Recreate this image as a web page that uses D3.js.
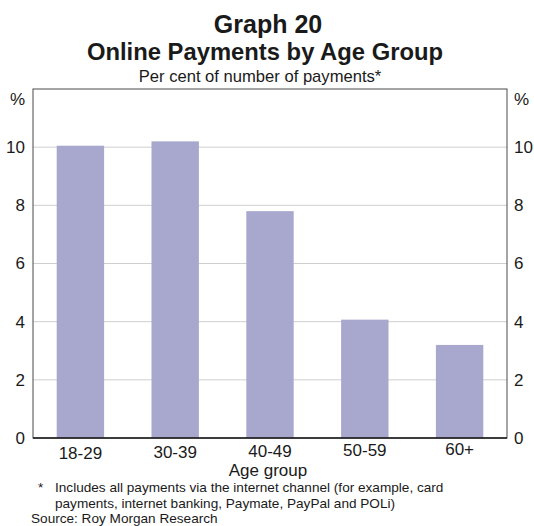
<!DOCTYPE html>
<html>
<head>
<meta charset="utf-8">
<script src="https://cdn.jsdelivr.net/npm/d3@7"></script>
<style>
  html, body { margin: 0; padding: 0; background: #fff; }
  text { font-family: "Liberation Sans", Arial, Helvetica, sans-serif; fill: #1a1a1a; }
</style>
</head>
<body>
<script>
const categories = ["18-29", "30-39", "40-49", "50-59", "60+"];
const values = [10.05, 10.2, 7.8, 4.07, 3.2];
const yTicks = [0, 2, 4, 6, 8, 10];
const titleText = "Graph 20";
const subtitleText = "Online Payments by Age Group";
const unitsText = "Per cent of number of payments*";
const xAxisTitle = "Age group";
const footnoteLines = [
  "Includes all payments via the internet channel (for example, card",
  "payments, internet banking, Paymate, PayPal and POLi)"
];
const sourceText = "Source: Roy Morgan Research";

const W = 534, H = 526;
const plot = { left: 33, right: 507, top: 89, bottom: 438 };
const barColor = "#a8a8ce";
const gridColor = "#cfcfcf";
const tickFont = 17;
const noteFont = 13.6;

const svg = d3.select("body").append("svg")
  .attr("width", W).attr("height", H)
  .attr("viewBox", `0 0 ${W} ${H}`);

const x = d3.scaleBand().domain(categories)
  .range([plot.left, plot.right]).paddingInner(0.5).paddingOuter(0.25);
const y = d3.scaleLinear().domain([0, 12]).range([plot.bottom, plot.top]);

// titles
svg.append("text").attr("x", 268).attr("y", 33)
  .attr("text-anchor", "middle").attr("font-size", 25).attr("font-weight", "bold")
  .text(titleText);
svg.append("text").attr("x", 265).attr("y", 59.5)
  .attr("text-anchor", "middle").attr("font-size", 23.8).attr("font-weight", "bold")
  .text(subtitleText);
svg.append("text").attr("x", 260).attr("y", 82)
  .attr("text-anchor", "middle").attr("font-size", 16.6)
  .text(unitsText);

// gridlines
svg.append("g").selectAll("line")
  .data(yTicks.filter(d => d > 0))
  .join("line")
  .attr("x1", plot.left).attr("x2", plot.right)
  .attr("y1", d => y(d)).attr("y2", d => y(d))
  .attr("stroke", gridColor).attr("stroke-width", 1);

// bars
svg.append("g").selectAll("rect")
  .data(categories.map((c, i) => ({ c, v: values[i] })))
  .join("rect")
  .attr("x", d => x(d.c))
  .attr("width", x.bandwidth())
  .attr("y", d => y(d.v))
  .attr("height", d => y(0) - y(d.v))
  .attr("fill", barColor);

// frame
svg.append("rect")
  .attr("x", plot.left).attr("y", plot.top)
  .attr("width", plot.right - plot.left).attr("height", plot.bottom - plot.top)
  .attr("fill", "none").attr("stroke", "#4a4a4a").attr("stroke-width", 1);
svg.append("line")
  .attr("x1", plot.left).attr("x2", plot.right)
  .attr("y1", plot.bottom).attr("y2", plot.bottom)
  .attr("stroke", "#1a1a1a").attr("stroke-width", 1.5);

// y axes (left & right)
const yLeft = d3.axisLeft(y).tickValues(yTicks).tickSize(0).tickPadding(8).tickFormat(d3.format("d"));
const yRight = d3.axisRight(y).tickValues(yTicks).tickSize(0).tickPadding(7).tickFormat(d3.format("d"));
const gl = svg.append("g").attr("transform", `translate(${plot.left},0)`).call(yLeft);
const gr = svg.append("g").attr("transform", `translate(${plot.right},0)`).call(yRight);
[gl, gr].forEach(g => {
  g.select(".domain").remove();
  g.selectAll("text").attr("font-size", tickFont).attr("fill", "#1a1a1a")
    .attr("font-family", "Liberation Sans, Arial, sans-serif");
});
svg.append("text").attr("x", plot.left - 8).attr("y", 105)
  .attr("text-anchor", "end").attr("font-size", tickFont).text("%");
svg.append("text").attr("x", plot.right + 7).attr("y", 105)
  .attr("text-anchor", "start").attr("font-size", tickFont).text("%");

// x axis labels
const xAxis = d3.axisBottom(x).tickSize(0).tickPadding(9);
const gx = svg.append("g").attr("transform", `translate(0,${plot.bottom})`).call(xAxis);
gx.select(".domain").remove();
gx.selectAll("text").attr("font-size", tickFont).attr("fill", "#1a1a1a")
  .attr("font-family", "Liberation Sans, Arial, sans-serif")
  .attr("transform", (d, i) => `translate(0,${-i})`);

svg.append("text").attr("x", 268).attr("y", 476)
  .attr("text-anchor", "middle").attr("font-size", 17).text(xAxisTitle);

// footnotes
svg.append("text").attr("x", 38).attr("y", 492.4).attr("font-size", noteFont).text("*");
svg.append("g").selectAll("text").data(footnoteLines).join("text")
  .attr("x", 55).attr("y", (d, i) => 492.4 + i * 15.3)
  .attr("font-size", noteFont).text(d => d);
svg.append("text").attr("x", 31).attr("y", 523).attr("font-size", noteFont).text(sourceText);
</script>
</body>
</html>
